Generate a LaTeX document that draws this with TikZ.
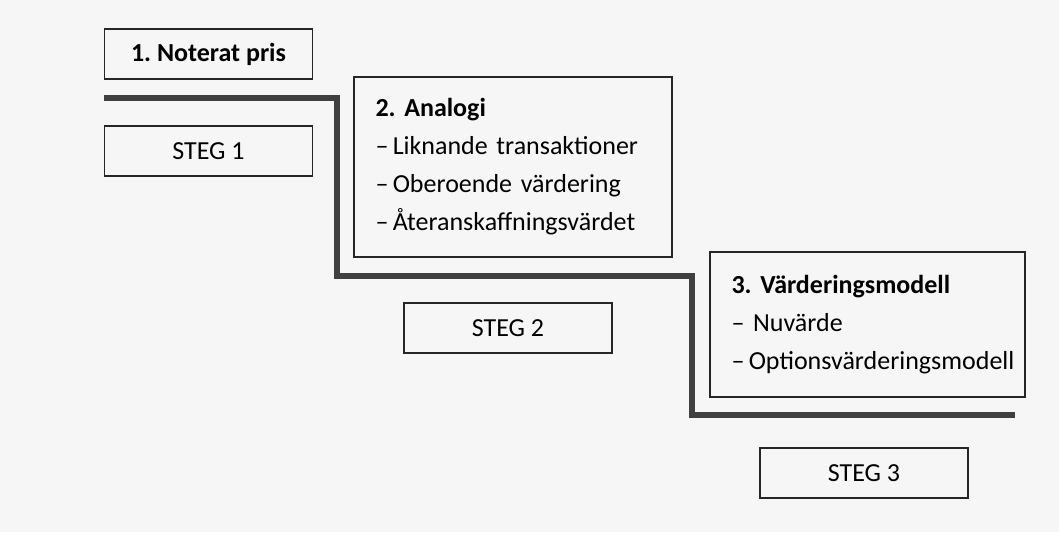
\documentclass[tikz,border=0pt]{standalone}
\usepackage{fontspec}
\setmainfont{Carlito}
\frenchspacing
\begin{document}
\begin{tikzpicture}[
        x=0.5pt,
        y=-0.5pt,
        font=\fontsize{13}{19}\selectfont
    ]
    \tikzset{
        stegbox/.style = {rectangle, draw=black!85, line width=0.7pt, minimum width=104pt, minimum height=25pt, inner sep=0pt},
        listbox/.style = {rectangle, draw=black!85, line width=0.7pt, align=left, inner xsep=10.75pt, inner ysep=0pt},
        stair/.style = {line width=2.8pt, draw=black!75},
    }
    \fill[gray!7] (0,0) rectangle (1059,532);
    \useasboundingbox (0,0) rectangle (1059,532);
    \node[stegbox] at (208.5,54) (pris) {\textbf{1. Noterat pris}};
    \node[stegbox] at (208.5,151) (steg1) {STEG 1};
    \node[listbox, text width=137.5pt, minimum height=90pt] at (513,167) (analogi)
        {\textbf{2. Analogi}\\
         \mbox{--\,Liknande transaktioner}\\
         \mbox{--\,Oberoende värdering}\\
         \mbox{--\,Återanskaffningsvärdet}};
    \node[stegbox] at (508,328) (steg2) {STEG 2};
    \node[listbox, text width=136pt, minimum height=72.5pt] at (867.5,324.5) (modell)
        {\textbf{3. Värderingsmodell}\\
         \mbox{-- Nuvärde}\\
         \mbox{--\,Optionsvärderingsmodell}};
    \node[stegbox] at (864,473) (steg3) {STEG 3};
    %
    \draw[stair] (104,98) -- (337,98) -- (337,276) -- (692,276) -- (692,415) -- (1015,415);
\end{tikzpicture}
\end{document}
